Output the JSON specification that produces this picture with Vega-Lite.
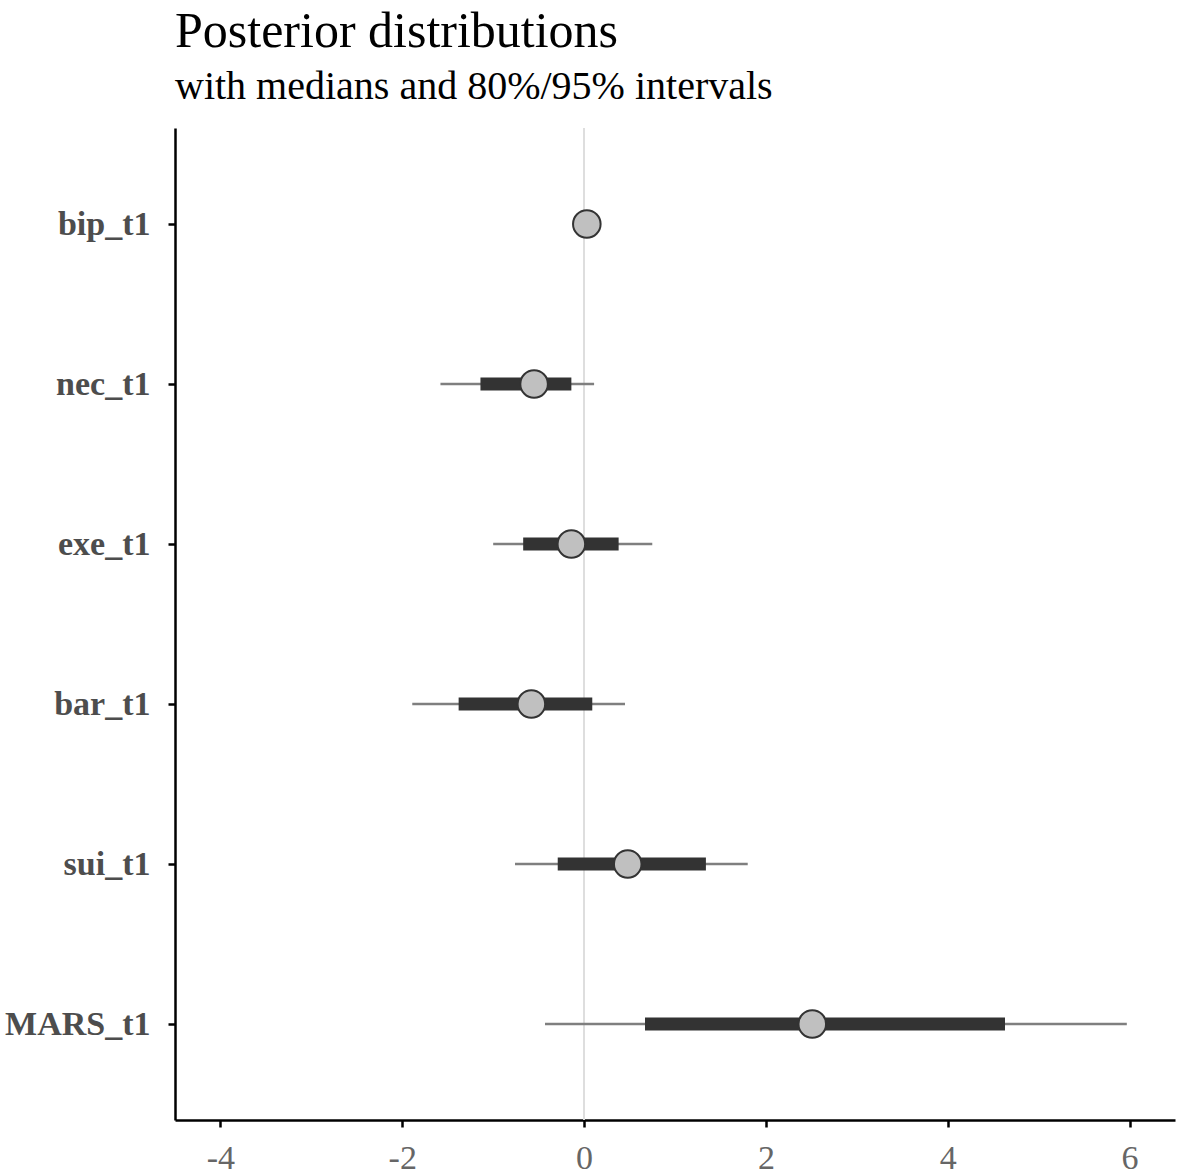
{
  "$schema": "https://vega.github.io/schema/vega-lite/v6.json",
  "width": 1000,
  "height": 992,
  "autosize": {"type": "none"},
  "padding": {"left": 175, "top": 128, "right": 6, "bottom": 56},
  "background": "white",
  "title": {
    "text": "Posterior distributions",
    "subtitle": "with medians and 80%/95% intervals",
    "anchor": "start",
    "frame": "group",
    "font": "Liberation Serif",
    "fontSize": 50,
    "fontWeight": "normal",
    "color": "#000000",
    "subtitleFont": "Liberation Serif",
    "subtitleFontSize": 40,
    "subtitleColor": "#000000",
    "subtitlePadding": 10,
    "offset": 20
  },
  "config": {
    "view": {"stroke": null},
    "axis": {
      "grid": false,
      "domainColor": "#000000",
      "domainWidth": 2.5,
      "tickColor": "#000000",
      "tickWidth": 2.5,
      "tickSize": 7,
      "labelFont": "Liberation Serif",
      "labelFontSize": 34,
      "labelColor": "#4d4d4d",
      "title": null
    }
  },
  "data": {
    "values": [
      {"param": "bip_t1", "ll": -0.06, "l": -0.02, "m": 0.03, "h": 0.08, "hh": 0.12},
      {"param": "nec_t1", "ll": -1.58, "l": -1.14, "m": -0.55, "h": -0.14, "hh": 0.11},
      {"param": "exe_t1", "ll": -1.0, "l": -0.67, "m": -0.14, "h": 0.38, "hh": 0.75},
      {"param": "bar_t1", "ll": -1.89, "l": -1.38, "m": -0.58, "h": 0.09, "hh": 0.45},
      {"param": "sui_t1", "ll": -0.76, "l": -0.29, "m": 0.48, "h": 1.34, "hh": 1.8},
      {"param": "MARS_t1", "ll": -0.43, "l": 0.67, "m": 2.51, "h": 4.63, "hh": 5.97}
    ]
  },
  "encoding": {
    "y": {
      "field": "param",
      "type": "nominal",
      "sort": ["bip_t1", "nec_t1", "exe_t1", "bar_t1", "sui_t1", "MARS_t1"],
      "scale": {"type": "point", "padding": 0.6},
      "axis": {"labelFontWeight": "bold", "labelPadding": 18, "labelColor": "#4d4d4d"}
    }
  },
  "layer": [
    {
      "mark": {"type": "rule", "color": "#dedede", "strokeWidth": 1.5},
      "encoding": {"x": {"datum": 0, "type": "quantitative"}, "y": null}
    },
    {
      "mark": {"type": "rule", "color": "#7f7f7f", "strokeWidth": 2.5},
      "encoding": {
        "x": {
          "field": "ll",
          "type": "quantitative",
          "scale": {"domain": [-4.5, 6.5], "nice": false, "zero": false},
          "axis": {
            "values": [-4, -2, 0, 2, 4, 6],
            "labelExpr": "datum.value < 0 ? '-' + abs(datum.value) : '' + datum.value",
            "labelPadding": 14,
            "labelColor": "#666666"
          }
        },
        "x2": {"field": "hh"}
      }
    },
    {
      "mark": {"type": "rule", "color": "#333333", "strokeWidth": 13, "strokeCap": "butt"},
      "encoding": {
        "x": {"field": "l", "type": "quantitative"},
        "x2": {"field": "h"}
      }
    },
    {
      "mark": {"type": "point", "shape": "circle", "filled": true, "fill": "#c0c0c0", "stroke": "#333333", "strokeWidth": 2, "size": 760, "opacity": 1},
      "encoding": {
        "x": {"field": "m", "type": "quantitative"}
      }
    }
  ]
}
